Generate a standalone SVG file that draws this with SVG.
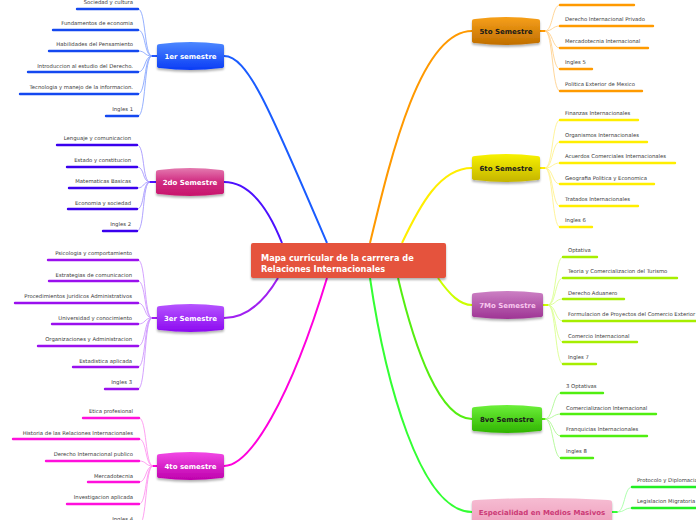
<svg xmlns="http://www.w3.org/2000/svg" width="696" height="520" viewBox="0 0 696 520">
<style>
.t{font-family:"DejaVu Sans",Verdana,sans-serif;font-size:5.3px;fill:#3a3a3a}
.l{text-anchor:end}
.n{font-family:"DejaVu Sans",Verdana,sans-serif;font-size:7px;font-weight:bold;text-anchor:middle}
.u{stroke-width:2.4;stroke-linecap:round;fill:none}
.c{fill:none;stroke-width:0.8}
.m{fill:none;stroke-width:2}
</style>
<defs>
<filter id="sh" x="-10%" y="-20%" width="120%" height="160%"><feDropShadow dx="0" dy="2" stdDeviation="1.2" flood-color="#000" flood-opacity="0.3"/></filter>
<linearGradient id="g1" x1="0" y1="0" x2="0" y2="1"><stop offset="0" stop-color="#4d88ff"/><stop offset="1" stop-color="#0a3cf5"/></linearGradient>
<linearGradient id="g2" x1="0" y1="0" x2="0" y2="1"><stop offset="0" stop-color="#e47ab0"/><stop offset="0.5" stop-color="#d02a80"/><stop offset="1" stop-color="#c8146c"/></linearGradient>
<linearGradient id="g3" x1="0" y1="0" x2="0" y2="1"><stop offset="0" stop-color="#b655ff"/><stop offset="1" stop-color="#8c0af0"/></linearGradient>
<linearGradient id="g4" x1="0" y1="0" x2="0" y2="1"><stop offset="0" stop-color="#f248e6"/><stop offset="1" stop-color="#be00ac"/></linearGradient>
<linearGradient id="g5" x1="0" y1="0" x2="0" y2="1"><stop offset="0" stop-color="#f7a01a"/><stop offset="1" stop-color="#c06e00"/></linearGradient>
<linearGradient id="g6" x1="0" y1="0" x2="0" y2="1"><stop offset="0" stop-color="#f8f200"/><stop offset="1" stop-color="#c4b400"/></linearGradient>
<linearGradient id="g7" x1="0" y1="0" x2="0" y2="1"><stop offset="0" stop-color="#cc80c4"/><stop offset="1" stop-color="#9e3494"/></linearGradient>
<linearGradient id="g8" x1="0" y1="0" x2="0" y2="1"><stop offset="0" stop-color="#6cf03a"/><stop offset="1" stop-color="#30b400"/></linearGradient>
<linearGradient id="g9" x1="0" y1="0" x2="0" y2="1"><stop offset="0" stop-color="#f6bcd2"/><stop offset="1" stop-color="#ee9ebc"/></linearGradient>
</defs>
<rect width="696" height="520" fill="#ffffff"/>

<g id="connectors">
<path class="m" stroke="#1a5cff" d="M224,56 C248,56 270,110 327,243"/>
<path class="m" stroke="#4d10ff" d="M224,182 C245,182 265,200 282,243"/>
<path class="m" stroke="#a020f0" d="M224,318 C248,318 265,300 278,278"/>
<path class="m" stroke="#ff00dd" d="M224,466 C250,466 290,400 327,278"/>
<path class="m" stroke="#ff9900" d="M370,243 C390,160 420,31 472,31"/>
<path class="m" stroke="#ffee00" d="M402,243 C420,205 440,168 472,168"/>
<path class="m" stroke="#ccff00" d="M438,278 C450,295 460,305 472,305"/>
<path class="m" stroke="#55ee11" d="M398,278 C415,350 440,419 472,419"/>
<path class="m" stroke="#33ff33" d="M370,278 C385,380 420,512 472,512"/>
<path stroke="#2255ff" stroke-width="2" d="M151,56 H157"/>
<path stroke="#4d10ff" stroke-width="2" d="M149,182 H156"/>
<path stroke="#a020f0" stroke-width="2" d="M151,318 H157"/>
<path stroke="#ff00dd" stroke-width="2" d="M152,466 H157"/>
<path stroke="#ff9900" stroke-width="2" d="M540,31 H546"/>
<path stroke="#ffee00" stroke-width="2" d="M540,168 H546"/>
<path stroke="#ccff00" stroke-width="2" d="M543,305 H549"/>
<path stroke="#55ee11" stroke-width="2" d="M542,419 H546"/>
<path stroke="#33ff33" stroke-width="2" d="M612,512 H618"/>
<g class="c" stroke="#7a9cff">
<path d="M152,56 C144,56 146,9 138,9"/>
<path d="M152,56 C144,56 146,30 138,30"/>
<path d="M152,56 C144,56 146,51 138,51"/>
<path d="M152,56 C144,56 146,72 138,72"/>
<path d="M152,56 C144,56 146,94 138,94"/>
<path d="M152,56 C144,56 146,116 138,116"/>
</g>
<g class="c" stroke="#9c8cff">
<path d="M150,182 C142,182 145,145 137,145"/>
<path d="M150,182 C142,182 145,167 137,167"/>
<path d="M150,182 C142,182 145,188 137,188"/>
<path d="M150,182 C142,182 145,209 137,209"/>
<path d="M150,182 C142,182 145,231 137,231"/>
</g>
<g class="c" stroke="#c98aff">
<path d="M152,318 C144,318 146,260 138,260"/>
<path d="M152,318 C144,318 146,281 138,281"/>
<path d="M152,318 C144,318 146,303 138,303"/>
<path d="M152,318 C144,318 146,324 138,324"/>
<path d="M152,318 C144,318 146,346 138,346"/>
<path d="M152,318 C144,318 146,367 138,367"/>
<path d="M152,318 C144,318 146,389 138,389"/>
</g>
<g class="c" stroke="#ff88ee">
<path d="M153,466 C145,466 147,418 139,418"/>
<path d="M153,466 C145,466 147,439 139,439"/>
<path d="M153,466 C145,466 147,461 139,461"/>
<path d="M153,466 C145,466 147,482 139,482"/>
<path d="M153,466 C145,466 147,504 139,504"/>
<path d="M153,466 C145,466 147,525 139,525"/>
</g>
<g class="c" stroke="#ffcc80">
<path d="M545,31 C553,31 552,5 560,5"/>
<path d="M545,31 C553,31 552,26 560,26"/>
<path d="M545,31 C553,31 552,48 560,48"/>
<path d="M545,31 C553,31 552,69 560,69"/>
<path d="M545,31 C553,31 552,91 560,91"/>
</g>
<g class="c" stroke="#fff080">
<path d="M545,168 C553,168 552,120 560,120"/>
<path d="M545,168 C553,168 552,142 560,142"/>
<path d="M545,168 C553,168 552,163 560,163"/>
<path d="M545,168 C553,168 552,184 560,184"/>
<path d="M545,168 C553,168 552,206 560,206"/>
<path d="M545,168 C553,168 552,227 560,227"/>
</g>
<g class="c" stroke="#d6ff80">
<path d="M548,305 C556,305 555,257 563,257"/>
<path d="M548,305 C556,305 555,278 563,278"/>
<path d="M548,305 C556,305 555,299 563,299"/>
<path d="M548,305 C556,305 555,321 563,321"/>
<path d="M548,305 C556,305 555,342 563,342"/>
<path d="M548,305 C556,305 555,364 563,364"/>
</g>
<g class="c" stroke="#a6f888">
<path d="M545,419 C553,419 553,393 561,393"/>
<path d="M545,419 C553,419 553,414 561,414"/>
<path d="M545,419 C553,419 553,436 561,436"/>
<path d="M545,419 C553,419 553,458 561,458"/>
</g>
<g class="c" stroke="#99ff99">
<path d="M617,512 C625,512 624,487 632,487"/>
<path d="M617,512 C625,512 624,508 632,508"/>
</g>
</g>

<g id="center">
<rect x="251" y="243" width="195" height="35" rx="2" fill="#e5533c" filter="url(#sh)"/>
<text x="261" y="261" style="font-family:'DejaVu Sans',Verdana,sans-serif;font-size:8.2px;font-weight:bold;fill:#fff">Mapa curricular de la carrrera de</text>
<text x="261" y="271.5" style="font-family:'DejaVu Sans',Verdana,sans-serif;font-size:8.2px;font-weight:bold;fill:#fff">Relaciones Internacionales</text>
</g>

<g id="n1"><path filter="url(#sh)" fill="url(#g1)" d="M157,46 Q157,44 160,44 Q190.5,40 221,44 Q224,44 224,46 L224,66 Q224,68 221,68 Q190.5,72 160,68 Q157,68 157,66 Z"/><text class="n" x="190.5" y="58.5" fill="#fff">1er semestre</text></g>
<g id="n2"><path filter="url(#sh)" fill="url(#g2)" d="M156,172 Q156,170 159,170 Q190,166 221,170 Q224,170 224,172 L224,192 Q224,194 221,194 Q190,198 159,194 Q156,194 156,192 Z"/><text class="n" x="190" y="184.5" fill="#fff">2do Semestre</text></g>
<g id="n3"><path filter="url(#sh)" fill="url(#g3)" d="M157,308 Q157,306 160,306 Q190.5,302 221,306 Q224,306 224,308 L224,328 Q224,330 221,330 Q190.5,334 160,330 Q157,330 157,328 Z"/><text class="n" x="190.5" y="320.5" fill="#fff">3er Semestre</text></g>
<g id="n4"><path filter="url(#sh)" fill="url(#g4)" d="M157,456 Q157,454 160,454 Q190.5,450 221,454 Q224,454 224,456 L224,476 Q224,478 221,478 Q190.5,482 160,478 Q157,478 157,476 Z"/><text class="n" x="190.5" y="468.5" fill="#fff">4to semestre</text></g>
<g id="n5"><path filter="url(#sh)" fill="url(#g5)" d="M472,21 Q472,19 475,19 Q506,15 537,19 Q540,19 540,21 L540,41 Q540,43 537,43 Q506,47 475,43 Q472,43 472,41 Z"/><text class="n" x="506" y="33.5" fill="#1a1a1a">5to Semestre</text></g>
<g id="n6"><path filter="url(#sh)" fill="url(#g6)" d="M472,158 Q472,156 475,156 Q506,152 537,156 Q540,156 540,158 L540,178 Q540,180 537,180 Q506,184 475,180 Q472,180 472,178 Z"/><text class="n" x="506" y="170.5" fill="#1a1a1a">6to Semestre</text></g>
<g id="n7"><path filter="url(#sh)" fill="url(#g7)" d="M472,295 Q472,293 475,293 Q507.5,289 540,293 Q543,293 543,295 L543,315 Q543,317 540,317 Q507.5,321 475,317 Q472,317 472,315 Z"/><text class="n" x="507.5" y="307.5" fill="#f8c6ee">7Mo Semestre</text></g>
<g id="n8"><path filter="url(#sh)" fill="url(#g8)" d="M472,409 Q472,407 475,407 Q507,403 539,407 Q542,407 542,409 L542,429 Q542,431 539,431 Q507,435 475,431 Q472,431 472,429 Z"/><text class="n" x="507" y="421.5" fill="#1a1a1a">8vo Semestre</text></g>
<g id="n9"><path filter="url(#sh)" fill="url(#g9)" d="M472,502 Q472,500 476,500 Q542,496 608,500 Q612,500 612,502 L612,522 Q612,524 608,524 Q542,528 476,524 Q472,524 472,522 Z"/><text class="n" x="542" y="515" fill="#cc3a76">Especialidad en Medios Masivos</text></g>

<g id="c1" stroke="#1448f0">
<g id="c1a"><line class="u" x1="77" y1="9" x2="138" y2="9"/><text class="t l" x="133" y="4" stroke="none">Sociedad y cultura</text></g>
<g id="c1b"><line class="u" x1="53" y1="30" x2="138" y2="30"/><text class="t l" x="133" y="25" stroke="none">Fundamentos de economia</text></g>
<g id="c1c"><line class="u" x1="49" y1="51" x2="138" y2="51"/><text class="t l" x="133" y="46" stroke="none">Habilidades del Pensamiento</text></g>
<g id="c1d"><line class="u" x1="28" y1="72" x2="138" y2="72"/><text class="t l" x="133" y="67.5" stroke="none">Introduccion al estudio del Derecho.</text></g>
<g id="c1e"><line class="u" x1="20" y1="94" x2="138" y2="94"/><text class="t l" x="133" y="89" stroke="none">Tecnologia y manejo de la informacion.</text></g>
<g id="c1f"><line class="u" x1="106" y1="116" x2="138" y2="116"/><text class="t l" x="133" y="111" stroke="none">Ingles 1</text></g>
</g>
<g id="c2" stroke="#3a00ee">
<g id="c2a"><line class="u" x1="57" y1="145" x2="137" y2="145"/><text class="t l" x="131" y="140" stroke="none">Lenguaje y comunicacion</text></g>
<g id="c2b"><line class="u" x1="67" y1="167" x2="137" y2="167"/><text class="t l" x="131" y="161.5" stroke="none">Estado y constitucion</text></g>
<g id="c2c"><line class="u" x1="69" y1="188" x2="137" y2="188"/><text class="t l" x="131" y="183" stroke="none">Matematicas Basicas</text></g>
<g id="c2d"><line class="u" x1="68" y1="209" x2="137" y2="209"/><text class="t l" x="131" y="204.5" stroke="none">Economia y sociedad</text></g>
<g id="c2e"><line class="u" x1="103" y1="231" x2="137" y2="231"/><text class="t l" x="131" y="226" stroke="none">Ingles 2</text></g>
</g>
<g id="c3" stroke="#9a10ee">
<g id="c3a"><line class="u" x1="48" y1="260" x2="138" y2="260"/><text class="t l" x="132" y="255" stroke="none">Psicologia y comportamiento</text></g>
<g id="c3b"><line class="u" x1="49" y1="281" x2="138" y2="281"/><text class="t l" x="132" y="276.5" stroke="none">Estrategias de comunicacion</text></g>
<g id="c3c"><line class="u" x1="15" y1="303" x2="138" y2="303"/><text class="t l" x="132" y="298" stroke="none">Procedimientos Juridicos Administrativos</text></g>
<g id="c3d"><line class="u" x1="52" y1="324" x2="138" y2="324"/><text class="t l" x="132" y="319.5" stroke="none">Universidad y conocimiento</text></g>
<g id="c3e"><line class="u" x1="38" y1="346" x2="138" y2="346"/><text class="t l" x="132" y="341" stroke="none">Organizaciones y Administracion</text></g>
<g id="c3f"><line class="u" x1="73" y1="367" x2="138" y2="367"/><text class="t l" x="132" y="362.5" stroke="none">Estadistica aplicada</text></g>
<g id="c3g"><line class="u" x1="105" y1="389" x2="138" y2="389"/><text class="t l" x="132" y="384" stroke="none">Ingles 3</text></g>
</g>
<g id="c4" stroke="#ff10dc">
<g id="c4a"><line class="u" x1="83" y1="418" x2="139" y2="418"/><text class="t l" x="133" y="413" stroke="none">Etica profesional</text></g>
<g id="c4b"><line class="u" x1="13" y1="439" x2="139" y2="439"/><text class="t l" x="133" y="434.5" stroke="none">Historia de las Relaciones Internacionales</text></g>
<g id="c4c"><line class="u" x1="46" y1="461" x2="139" y2="461"/><text class="t l" x="133" y="456" stroke="none">Derecho Internacional publico</text></g>
<g id="c4d"><line class="u" x1="88" y1="482" x2="139" y2="482"/><text class="t l" x="133" y="477.5" stroke="none">Mercadotecnia</text></g>
<g id="c4e"><line class="u" x1="67" y1="504" x2="139" y2="504"/><text class="t l" x="133" y="499" stroke="none">Investigacion aplicada</text></g>
<g id="c4f"><line class="u" x1="106" y1="525" x2="139" y2="525"/><text class="t l" x="133" y="520.5" stroke="none">Ingles 4</text></g>
</g>
<g id="c5" stroke="#ff9a00">
<g id="c5a"><line class="u" x1="560" y1="5" x2="634" y2="5"/></g>
<g id="c5b"><line class="u" x1="560" y1="26" x2="653" y2="26"/><text class="t" x="565" y="21" stroke="none">Derecho Internacional Privado</text></g>
<g id="c5c"><line class="u" x1="560" y1="48" x2="648" y2="48"/><text class="t" x="565" y="43" stroke="none">Mercadotecnia Internacional</text></g>
<g id="c5d"><line class="u" x1="560" y1="69" x2="592" y2="69"/><text class="t" x="565" y="64" stroke="none">Ingles 5</text></g>
<g id="c5e"><line class="u" x1="560" y1="91" x2="642" y2="91"/><text class="t" x="565" y="86" stroke="none">Politica Exterior de Mexico</text></g>
</g>
<g id="c6" stroke="#ffee00">
<g id="c6a"><line class="u" x1="560" y1="120" x2="638" y2="120"/><text class="t" x="565" y="115" stroke="none">Finanzas Internacionales</text></g>
<g id="c6b"><line class="u" x1="560" y1="142" x2="647" y2="142"/><text class="t" x="565" y="136.5" stroke="none">Organismos Internacionales</text></g>
<g id="c6c"><line class="u" x1="560" y1="163" x2="675" y2="163"/><text class="t" x="565" y="158" stroke="none">Acuerdos Comerciales Internacionales</text></g>
<g id="c6d"><line class="u" x1="560" y1="184" x2="654" y2="184"/><text class="t" x="565" y="179.5" stroke="none">Geografia Politica y Economica</text></g>
<g id="c6e"><line class="u" x1="560" y1="206" x2="638" y2="206"/><text class="t" x="565" y="201" stroke="none">Tratados Internacionales</text></g>
<g id="c6f"><line class="u" x1="560" y1="227" x2="592" y2="227"/><text class="t" x="565" y="222" stroke="none">Ingles 6</text></g>
</g>
<g id="c7" stroke="#a6ee00">
<g id="c7a"><line class="u" x1="563" y1="257" x2="597" y2="257"/><text class="t" x="568" y="251.5" stroke="none">Optativa</text></g>
<g id="c7b"><line class="u" x1="563" y1="278" x2="677" y2="278"/><text class="t" x="568" y="273" stroke="none">Teoria y Comercializacion del Turismo</text></g>
<g id="c7c"><line class="u" x1="563" y1="299" x2="624" y2="299"/><text class="t" x="568" y="294.5" stroke="none">Derecho Aduanero</text></g>
<g id="c7d"><line class="u" x1="563" y1="321" x2="700" y2="321"/><text class="t" x="568" y="316" stroke="none">Formulacion de Proyectos del Comercio Exterior</text></g>
<g id="c7e"><line class="u" x1="563" y1="342" x2="637" y2="342"/><text class="t" x="568" y="337.5" stroke="none">Comercio Internacional</text></g>
<g id="c7f"><line class="u" x1="563" y1="364" x2="596" y2="364"/><text class="t" x="568" y="359" stroke="none">Ingles 7</text></g>
</g>
<g id="c8" stroke="#50ee10">
<g id="c8a"><line class="u" x1="561" y1="393" x2="603" y2="393"/><text class="t" x="566" y="388" stroke="none">3 Optativas</text></g>
<g id="c8b"><line class="u" x1="561" y1="414" x2="656" y2="414"/><text class="t" x="566" y="409.5" stroke="none">Comercializacion Internacional</text></g>
<g id="c8c"><line class="u" x1="561" y1="436" x2="647" y2="436"/><text class="t" x="566" y="431" stroke="none">Franquicias Internacionales</text></g>
<g id="c8d"><line class="u" x1="561" y1="458" x2="593" y2="458"/><text class="t" x="566" y="452.5" stroke="none">Ingles 8</text></g>
</g>
<g id="c9" stroke="#22ee22">
<g id="c9a"><line class="u" x1="632" y1="487" x2="700" y2="487"/><text class="t" x="637" y="481.5" stroke="none">Protocolo y Diplomacia</text></g>
<g id="c9b"><line class="u" x1="632" y1="508" x2="700" y2="508"/><text class="t" x="637" y="503" stroke="none">Legislacion Migratoria</text></g>
</g>
</svg>
